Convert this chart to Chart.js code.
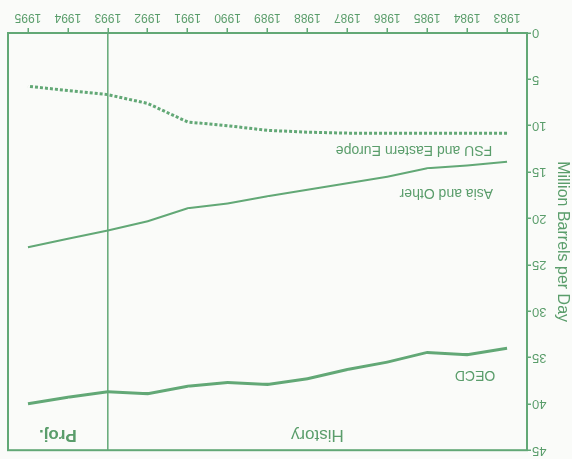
<!DOCTYPE html>
<html>
<head>
<meta charset="utf-8">
<script src="https://cdn.jsdelivr.net/npm/chart.js@4.4.1/dist/chart.umd.min.js"></script>
<style>
  body { margin: 0; background: #fafbf9; }
  #chart { display: block; transform: rotate(180deg); }
</style>
</head>
<body>
<canvas id="chart" width="572" height="459"></canvas>
<script>
// World oil consumption by region, million barrels per day
const years = ['1983', '1984', '1985', '1986', '1987', '1988', '1989', '1990', '1991', '1992', '1993', '1994', '1995'];
const oecd = [34.0, 34.7, 34.45, 35.5, 36.3, 37.3, 37.9, 37.7, 38.1, 38.9, 38.7, 39.3, 40.0];
const asiaOther = [13.9, 14.3, 14.6, 15.5, 16.2, 16.9, 17.6, 18.4, 18.9, 20.3, 21.3, 22.2, 23.1];
const fsu = [10.8, 10.8, 10.8, 10.8, 10.8, 10.7, 10.5, 10.0, 9.6, 7.6, 6.65, 6.2, 5.75];
const yTicks = [0, 5, 10, 15, 20, 25, 30, 35, 40, 45];
const lastHistoryYear = '1993';

const green = '#62a876';
const textGreen = '#5a9d6b';

// line labels: [text, x index, y value, font]
const lineLabels = [
  ['FSU and Eastern Europe', 2.33, 12.6, '14px "Liberation Sans"'],
  ['Asia and Other', 1.52, 17.2, '14px "Liberation Sans"'],
  ['OECD', 0.8, 36.9, '14px "Liberation Sans"']
];

const decorations = {
  id: 'decorations',
  beforeDraw(chart) {
    const ctx = chart.ctx;
    ctx.save();
    ctx.fillStyle = '#fafbf9';
    ctx.fillRect(0, 0, chart.width, chart.height);
    ctx.restore();
  },
  afterDatasetsDraw(chart) {
    const { ctx, chartArea: a, scales: { x, y } } = chart;
    ctx.save();
    ctx.strokeStyle = green;
    ctx.lineWidth = 2;
    ctx.strokeRect(a.left, a.top, a.right - a.left, a.bottom - a.top);

    const xSplit = x.getPixelForValue(years.indexOf(lastHistoryYear));
    ctx.lineWidth = 1.5;
    ctx.beginPath();
    ctx.moveTo(xSplit, a.top);
    ctx.lineTo(xSplit, a.bottom);
    ctx.stroke();

    ctx.fillStyle = textGreen;
    ctx.textAlign = 'center';
    ctx.textBaseline = 'middle';
    lineLabels.forEach(([text, xi, yv, font]) => {
      ctx.font = font;
      ctx.fillText(text, x.getPixelForValue(xi), y.getPixelForValue(yv));
    });

    const labelY = y.getPixelForValue(43.3);
    ctx.font = '17px "Liberation Sans"';
    ctx.fillText('History', (a.left + xSplit) / 2, labelY);
    ctx.font = 'bold 17px "Liberation Sans"';
    ctx.fillText('Proj.', (xSplit + a.right) / 2, labelY);
    ctx.restore();
  }
};

new Chart(document.getElementById('chart'), {
  type: 'line',
  data: {
    labels: years,
    datasets: [
      { label: 'OECD', data: oecd, borderColor: green, borderWidth: 3, pointRadius: 0, tension: 0 },
      { label: 'Asia and Other', data: asiaOther, borderColor: green, borderWidth: 2, pointRadius: 0, tension: 0 },
      { label: 'FSU and Eastern Europe', data: fsu, borderColor: green, borderWidth: 3, borderDash: [3, 2], pointRadius: 0, tension: 0 }
    ]
  },
  options: {
    responsive: false,
    animation: false,
    layout: { padding: { top: 6, right: 8, left: 0, bottom: 0 } },
    plugins: { legend: { display: false }, tooltip: { enabled: false } },
    scales: {
      x: {
        offset: true,
        grid: { offset: false, drawOnChartArea: false, drawTicks: true, tickLength: 5, color: green, lineWidth: 1.5 },
        border: { display: false },
        ticks: { color: textGreen, font: { family: 'Liberation Sans', size: 12 }, padding: 3, maxRotation: 0, autoSkip: false },
        afterFit(scale) { scale.height = 33; }
      },
      y: {
        min: 0,
        max: 45,
        afterBuildTicks(scale) { scale.ticks = yTicks.map(v => ({ value: v })); },
        grid: { drawOnChartArea: false, drawTicks: true, tickLength: 4, color: green, lineWidth: 1.5 },
        border: { display: false },
        ticks: { color: textGreen, font: { family: 'Liberation Sans', size: 13 }, padding: 1 },
        title: { display: true, text: 'Million Barrels per Day', color: textGreen, font: { family: 'Liberation Sans', size: 16 }, padding: 0 },
        afterFit(scale) { scale.width = 45; }
      }
    }
  },
  plugins: [decorations]
});
</script>
</body>
</html>
